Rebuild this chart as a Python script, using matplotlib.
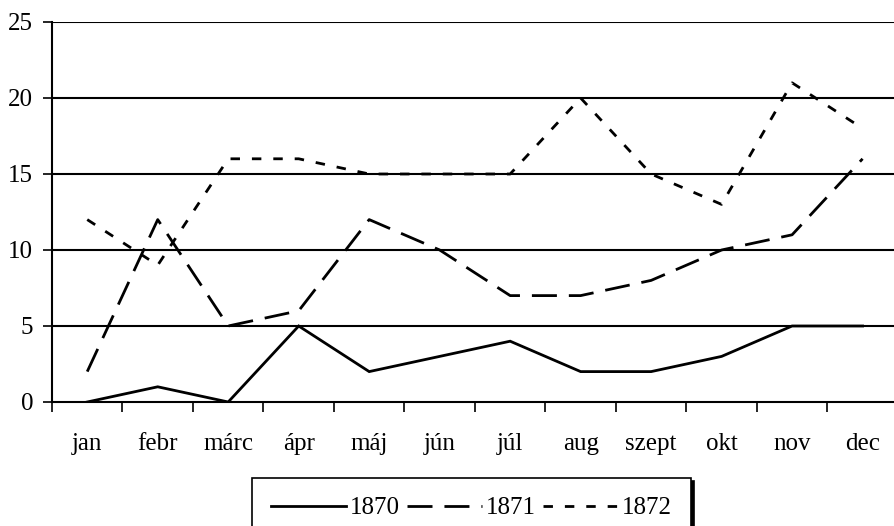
import matplotlib
matplotlib.use("Agg")
import matplotlib.pyplot as plt
from matplotlib.ticker import FixedLocator

months = ["jan", "febr", "márc", "ápr", "máj", "jún", "júl", "aug", "szept", "okt", "nov", "dec"]
y1870 = [0, 1, 0, 5, 2, 3, 4, 2, 2, 3, 5, 5]
y1871 = [2, 12, 5, 6, 12, 10, 7, 7, 8, 10, 11, 16]
y1872 = [12, 9, 16, 16, 15, 15, 15, 20, 15, 13, 21, 18]
series_labels = ["1870", "1871", "1872"]
yticks = [0, 5, 10, 15, 20, 25]

plt.rcParams['font.family'] = ['Liberation Serif', 'DejaVu Serif']

fig = plt.figure(figsize=(8.95, 5.26), dpi=100)
ax = fig.add_axes([52/895, 1-402/526, 1-52/895, (402-22)/526])

x = list(range(len(months)))
lw = 2.0
ax.plot(x, y1870, color='black', lw=lw, solid_joinstyle='miter', label=series_labels[0])
ax.plot(x, y1871, color='black', lw=lw, dashes=(9, 4.3), label=series_labels[1])
ax.plot(x, y1872, color='black', lw=lw, dashes=(3.4, 4.3), label=series_labels[2])

ax.set_xlim(-0.5, 11.46)
ax.set_ylim(0, 25)

for v in yticks[1:]:
    ax.axhline(v, color='black', lw=1.5, zorder=0)

ax.set_yticks(yticks)
ax.set_yticklabels([str(v) for v in yticks], fontsize=18)
ax.tick_params(axis='y', length=6.5, width=1.2, pad=7)

ax.set_xticks(x)
ax.set_xticklabels(months, fontsize=18)
ax.tick_params(axis='x', which='major', length=0, pad=22)
ax.xaxis.set_minor_locator(FixedLocator([i + 0.5 for i in range(-1, 12)]))
ax.tick_params(axis='x', which='minor', length=7, width=1.2, direction='out')

for s in ['top', 'right']:
    ax.spines[s].set_visible(False)
ax.spines['left'].set_linewidth(1.5)
ax.spines['bottom'].set_linewidth(1.5)

leg = fig.legend(loc='upper left', bbox_to_anchor=(252/895, 1-478/526), ncol=3,
                 fontsize=18, frameon=True, fancybox=False, handlelength=3.0,
                 handletextpad=0.15, columnspacing=0.3, borderpad=0.75,
                 borderaxespad=0,
                 shadow={'color': 'black', 'alpha': 1})
leg.get_frame().set_edgecolor('black')
leg.get_frame().set_linewidth(1.2)

fig.savefig("out.png", dpi=100)
